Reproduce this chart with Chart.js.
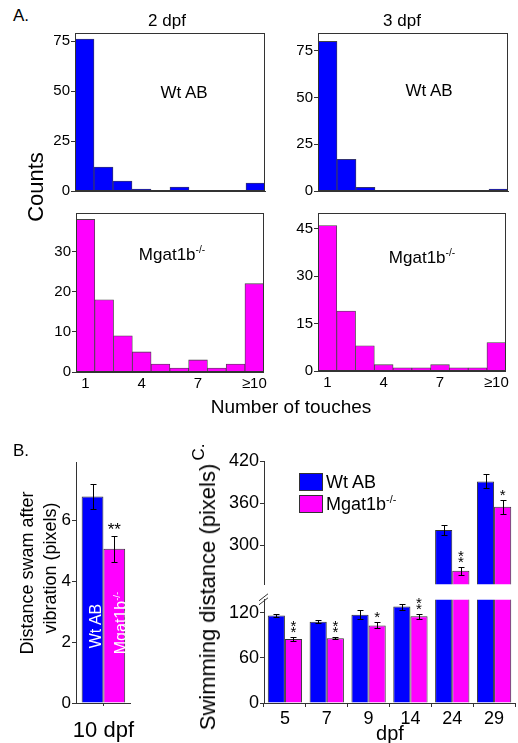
<!DOCTYPE html>
<html>
<head>
<meta charset="utf-8">
<script src="https://cdn.jsdelivr.net/npm/chart.js@4.4.1/dist/chart.umd.min.js"></script>
<style>
  body { margin: 0; background: #fff; }
  #fig { position: relative; width: 518px; height: 743px; overflow: hidden;
         font-family: "Liberation Sans", Arial, sans-serif; color: #000; }
  canvas { position: absolute; }
  .t { position: absolute; white-space: nowrap; line-height: 1; }
  .c { transform: translate(-50%, -50%); }
  .r { transform: translate(-50%, -50%) rotate(-90deg); }
  sup { font-size: 0.6em; vertical-align: 0; position: relative; top: -0.65em; }
  .box { position: absolute; width: 22px; height: 16px; border: 1px solid #333; }
</style>
</head>
<body>
<div id="fig">
  <canvas id="h1"></canvas>
  <canvas id="h2"></canvas>
  <canvas id="h3"></canvas>
  <canvas id="h4"></canvas>
  <canvas id="b"></canvas>
  <canvas id="cTop"></canvas>
  <canvas id="cBottom"></canvas>

  <div class="t c" style="left:21px;top:15px;font-size:17px">A.</div>
  <div class="t c" style="left:167px;top:20px;font-size:17px">2 dpf</div>
  <div class="t c" style="left:402px;top:20px;font-size:17px">3 dpf</div>
  <div class="t c" style="left:184px;top:92px;font-size:17px">Wt AB</div>
  <div class="t c" style="left:429px;top:90px;font-size:17px">Wt AB</div>
  <div class="t c" style="left:172px;top:254px;font-size:17px">Mgat1b<sup>-/-</sup></div>
  <div class="t c" style="left:422px;top:257px;font-size:17px">Mgat1b<sup>-/-</sup></div>
  <div class="t r" style="left:36px;top:187px;font-size:22px">Counts</div>
  <div class="t c" style="left:291px;top:406px;font-size:19px">Number of touches</div>

  <div class="t c" style="left:21px;top:450px;font-size:17px">B.</div>
  <div class="t r" style="left:27px;top:573px;font-size:18px">Distance swam after</div>
  <div class="t r" style="left:50px;top:568px;font-size:18px">vibration (pixels)</div>
  <div class="t r" style="left:96px;top:626px;font-size:16px;color:#fff">Wt AB</div>
  <div class="t r" style="left:121px;top:623px;font-size:16px;color:#fff">Mgat1b<sup>-/-</sup></div>

  <div class="t r" style="left:198px;top:452px;font-size:17px">C.</div>
  <div class="t r" style="left:208px;top:597px;font-size:22px">Swimming distance (pixels)</div>
  <div class="t c" style="left:390px;top:733px;font-size:20px">dpf</div>
  <div class="box" style="left:299px;top:473px;background:#0000ff"></div>
  <div class="t" style="left:326px;top:473px;font-size:18px">Wt AB</div>
  <div class="box" style="left:299px;top:495px;background:#ff00ff"></div>
  <div class="t" style="left:326px;top:495px;font-size:18px">Mgat1b<sup>-/-</sup></div>
</div>

<script>
const FONT = '"Liberation Sans", Arial, sans-serif';
const BLUE = '#0000ff';
const MAGENTA = '#ff00ff';

// A. number of touches histograms
const touchBins = ['1', '2', '3', '4', '5', '6', '7', '8', '9', '10'];
const touchTickLabels = ['1', '', '', '4', '', '', '7', '', '', '≥10'];
const wt2dpf = [76, 12, 5, 1, 0, 2, 0, 0, 0, 4];
const wt3dpf = [80, 17, 2, 0, 0, 0, 0, 0, 0, 1];
const mgat2dpf = [38, 18, 9, 5, 2, 1, 3, 1, 2, 22];
const mgat3dpf = [46, 19, 8, 2, 1, 1, 2, 1, 1, 9];
const wtTicks = [0, 25, 50, 75];
const mgat2Ticks = [0, 10, 20, 30];
const mgat3Ticks = [0, 15, 30, 45];

// B. distance after vibration, 10 dpf
const vibGroups = ['10 dpf'];
const vibWt = [6.8];
const vibWtErr = [0.4];
const vibMgat = [5.08];
const vibMgatErr = [0.43];
const vibStars = ['**'];
const vibTicks = [0, 2, 4, 6];

// C. swimming distance by age
const swimDays = ['5', '7', '9', '14', '24', '29'];
const swimWt = [116, 108, 117, 128, 322, 391];
const swimWtErr = [2, 2, 6, 4, 7, 10];
const swimMgat = [85, 86, 103, 115, 264, 355];
const swimMgatErr = [3, 1.5, 4, 3, 6, 10];
const swimStars = ['**', '**', '*', '**', '**', '*'];
const swimTicksLow = [0, 60, 120];
const swimTicksHigh = [300, 360, 420];

// box around the plot area
const framePlugin = {
  id: 'frame',
  afterDraw(chart, args, opts) {
    if (!opts.on) return;
    const { ctx, chartArea: a } = chart;
    ctx.save();
    ctx.strokeStyle = '#333';
    ctx.lineWidth = 1;
    ctx.strokeRect(Math.round(a.left) + 0.5, Math.round(a.top) + 0.5,
                   Math.round(a.right - a.left) - 1, Math.round(a.bottom - a.top) - 1);
    ctx.restore();
  }
};

// error bars and significance stars, taken from the bar elements
const errorPlugin = {
  id: 'errorBars',
  afterDatasetsDraw(chart, args, opts) {
    if (!opts.errors) return;
    const { ctx, scales: { y } } = chart;
    ctx.save();
    ctx.strokeStyle = '#000';
    ctx.lineWidth = 1;
    ctx.fillStyle = '#000';
    opts.errors.forEach((errs, di) => {
      const vals = chart.data.datasets[di].data;
      chart.getDatasetMeta(di).data.forEach((bar, i) => {
        const v = vals[i], e = errs[i];
        if (v + e > y.max || v - e < y.min) return;
        const x = Math.round(bar.x) + 0.5;
        const y1 = Math.round(y.getPixelForValue(v + e)) + 0.5;
        const y2 = Math.round(y.getPixelForValue(v - e)) + 0.5;
        ctx.beginPath();
        ctx.moveTo(x, y1); ctx.lineTo(x, y2);
        ctx.moveTo(x - 3, y1); ctx.lineTo(x + 3, y1);
        ctx.moveTo(x - 3, y2); ctx.lineTo(x + 3, y2);
        ctx.stroke();
        if (opts.stars && di === opts.starSet && opts.stars[i]) {
          const top = y.getPixelForValue(v + e);
          ctx.textAlign = 'center';
          ctx.textBaseline = 'alphabetic';
          if (opts.stacked) {
            ctx.font = '15px ' + FONT;
            for (let k = 0; k < opts.stars[i].length; k++) {
              ctx.fillText('*', bar.x, top - 8.5 - 6 * k + 8.6);
            }
          } else {
            ctx.font = '17px ' + FONT;
            ctx.fillText(opts.stars[i], bar.x, top - 10 + 9.7);
          }
        }
      });
    });
    ctx.restore();
  }
};

// "//" mark where the y axis is broken
const breakPlugin = {
  id: 'axisBreak',
  afterDraw(chart, args, opts) {
    if (!opts.on) return;
    const { ctx, chartArea: a } = chart;
    const x = a.left, y = a.top;
    ctx.save();
    ctx.strokeStyle = '#333';
    ctx.lineWidth = 1;
    ctx.beginPath();
    ctx.moveTo(x - 5, y + 1); ctx.lineTo(x + 4, y - 6);
    ctx.moveTo(x - 5, y + 5); ctx.lineTo(x + 4, y - 2);
    ctx.stroke();
    ctx.restore();
  }
};

// put a canvas so that its plot area lands on the given page rectangle
function makeChart(id, box, cfg) {
  const c = document.getElementById(id);
  const padB = box.padB || 0;
  c.width = box.right - box.left + box.yW + box.padR;
  c.height = box.bottom - box.top + box.padT + box.xH + padB;
  c.style.left = (box.left - box.yW) + 'px';
  c.style.top = (box.top - box.padT) + 'px';
  cfg.options.responsive = false;
  cfg.options.animation = false;
  cfg.options.layout = { padding: { top: box.padT, right: box.padR, bottom: padB, left: 0 } };
  cfg.options.scales.y.afterFit = s => { s.width = box.yW; };
  cfg.options.scales.x.afterFit = s => { s.height = box.xH; };
  return new Chart(c, cfg);
}

function yScale(min, max, ticks, size) {
  return {
    min: min, max: max,
    grid: { drawOnChartArea: false, tickLength: 4, color: '#333' },
    border: { color: '#333' },
    ticks: { color: '#000', padding: 1, font: { family: FONT, size: size } },
    afterBuildTicks: s => { s.ticks = ticks.map(v => ({ value: v })); }
  };
}

function histConfig(values, color, yMax, yTicks, showLabels) {
  return {
    type: 'bar',
    data: {
      labels: touchBins,
      datasets: [{ data: values, backgroundColor: color, borderColor: '#444',
                   borderWidth: 0.8, categoryPercentage: 1, barPercentage: 1 }]
    },
    options: {
      plugins: { legend: { display: false }, tooltip: { enabled: false }, frame: { on: true } },
      scales: {
        x: {
          grid: { display: false, drawTicks: false },
          border: { color: '#333' },
          ticks: { display: showLabels, color: '#000', padding: 3, autoSkip: false, maxRotation: 0,
                   font: { family: FONT, size: 15 }, callback: (v, i) => touchTickLabels[i] }
        },
        y: yScale(0, yMax, yTicks, 15)
      }
    },
    plugins: [framePlugin]
  };
}

makeChart('h1', { left: 75, right: 265, top: 33, bottom: 191, yW: 40, xH: 25, padT: 10, padR: 4 },
          histConfig(wt2dpf, BLUE, 79, wtTicks, false));
makeChart('h2', { left: 318, right: 508, top: 33, bottom: 191, yW: 40, xH: 25, padT: 10, padR: 4 },
          histConfig(wt3dpf, BLUE, 84.5, wtTicks, false));
makeChart('h3', { left: 76, right: 266, top: 213, bottom: 372, yW: 40, xH: 25, padT: 10, padR: 4 },
          histConfig(mgat2dpf, MAGENTA, 39.6, mgat2Ticks, true));
makeChart('h4', { left: 318, right: 508, top: 213, bottom: 371, yW: 40, xH: 25, padT: 10, padR: 4 },
          histConfig(mgat3dpf, MAGENTA, 50, mgat3Ticks, true));

// B
makeChart('b', { left: 76, right: 144, top: 461, bottom: 703, yW: 40, xH: 40, padT: 10, padR: 4 }, {
  type: 'bar',
  data: {
    labels: vibGroups,
    datasets: [
      { data: vibWt, backgroundColor: BLUE, borderColor: '#333', borderWidth: 1,
        categoryPercentage: 0.794, barPercentage: 1 },
      { data: vibMgat, backgroundColor: MAGENTA, borderColor: '#333', borderWidth: 1,
        categoryPercentage: 0.794, barPercentage: 1 }
    ]
  },
  options: {
    plugins: { legend: { display: false }, tooltip: { enabled: false },
               errorBars: { errors: [vibWtErr, vibMgatErr], stars: vibStars, starSet: 1 } },
    scales: {
      x: {
        grid: { offset: false, drawOnChartArea: false, tickLength: 3, color: '#333' },
        border: { color: '#333' },
        ticks: { color: '#000', padding: 12, font: { family: FONT, size: 22 } }
      },
      y: yScale(0, 7.93, vibTicks, 17)
    }
  },
  plugins: [errorPlugin]
});

// C, drawn as two charts sharing the x layout to break the y axis
function swimConfig(min, max, ticks, showX, withBreak) {
  return {
    type: 'bar',
    data: {
      labels: swimDays,
      datasets: [
        { data: swimWt, backgroundColor: BLUE, borderColor: '#333', borderWidth: 1,
          categoryPercentage: 0.82, barPercentage: 1 },
        { data: swimMgat, backgroundColor: MAGENTA, borderColor: '#333', borderWidth: 1,
          categoryPercentage: 0.82, barPercentage: 1 }
      ]
    },
    options: {
      plugins: { legend: { display: false }, tooltip: { enabled: false },
                 errorBars: { errors: [swimWtErr, swimMgatErr], stars: swimStars, starSet: 1, stacked: true },
                 axisBreak: { on: withBreak } },
      scales: {
        x: {
          display: showX,
          grid: { drawOnChartArea: false, tickLength: 4, color: '#333' },
          border: { color: '#333' },
          ticks: { color: '#000', padding: 1, font: { family: FONT, size: 18 } }
        },
        y: yScale(min, max, ticks, 18)
      }
    },
    plugins: [errorPlugin, breakPlugin]
  };
}

makeChart('cTop', { left: 264, right: 515, top: 461, bottom: 594, yW: 50, xH: 0, padT: 12, padR: 3, padB: 2 },
          swimConfig(245, 420, swimTicksHigh, false, false));
makeChart('cBottom', { left: 264, right: 515, top: 598, bottom: 703, yW: 50, xH: 40, padT: 10, padR: 3 },
          swimConfig(0, 137, swimTicksLow, true, true));
</script>
</body>
</html>
